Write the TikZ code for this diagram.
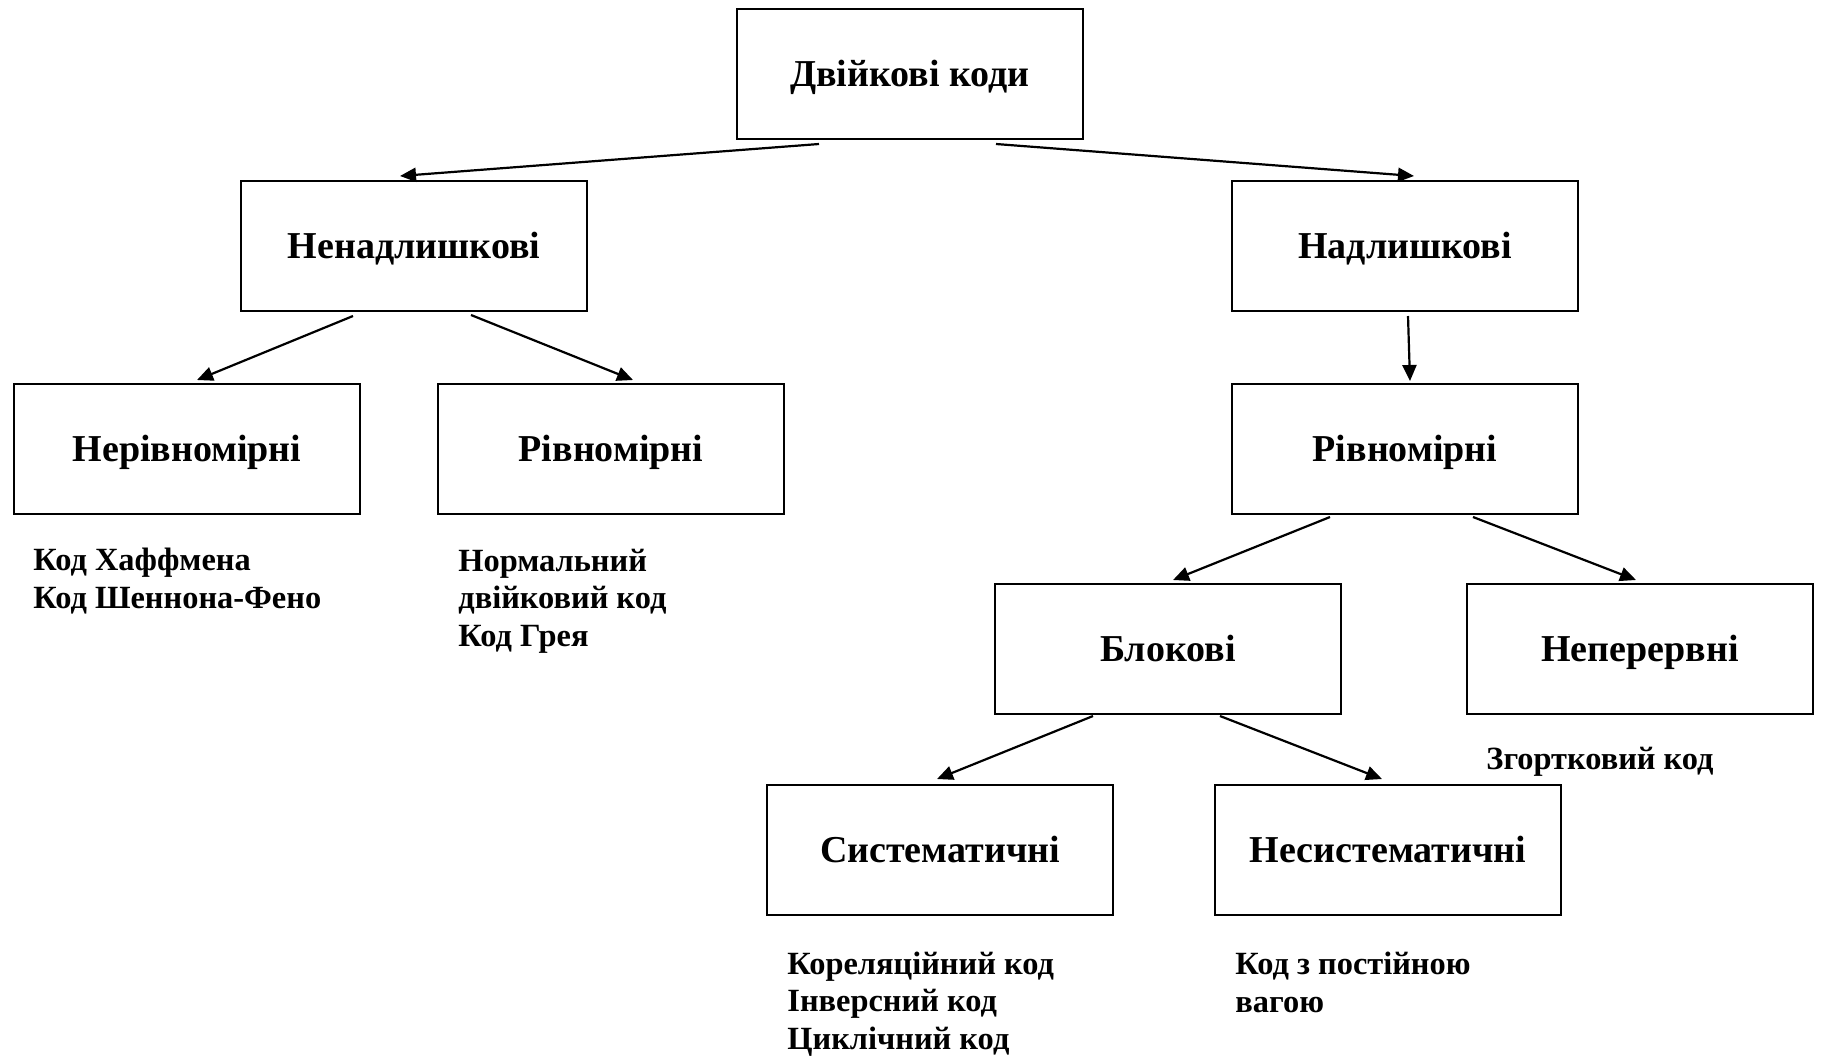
\documentclass[tikz,border=0pt]{standalone}
\usepackage{fontspec}
\setmainfont{Liberation Serif}
\usetikzlibrary{arrows.meta}
\begin{document}
\begin{tikzpicture}[x=0.5pt,y=-0.5pt,
  box/.style={draw, line width=1pt, minimum width=173pt, minimum height=65pt,
    inner sep=0pt, text height=12.5pt, text depth=0pt,
    font=\fontsize{19}{22}\selectfont\bfseries},
  note/.style={anchor=base west, align=left, inner sep=0pt,
    font=\fontsize{16.2}{18.6}\selectfont\bfseries},
  arr/.style={line width=1.1pt, -{Triangle[length=8pt,width=7pt]}}]
\useasboundingbox (0,0) rectangle (1823,1055);

% classification boxes
\node[box] (top)    at (910,74)  {Двійкові коди};
\node[box] (nen)    at (414,246) {Ненадлишкові};
\node[box] (nad)    at (1405,246) {Надлишкові};
\node[box] (nerivn) at (187,449) {Нерівномірні};
\node[box] (rivnL)  at (611,449) {Рівномірні};
\node[box] (rivnR)  at (1405,449) {Рівномірні};
\node[box] (blok)   at (1168,649) {Блокові};
\node[box] (neper)  at (1640,649) {Неперервні};
\node[box] (syst)   at (940,850) {Систематичні};
\node[box] (nesyst) at (1388,850) {Несистематичні};

% examples under the leaf boxes (placed by the baseline of the last line)
\node[note] (ex1) at (33,608)   {Код Хаффмена\\Код Шеннона-Фено};
\node[note] (ex2) at (458,646)  {Нормальний\\двійковий код\\Код Грея};
\node[note] (ex3) at (1486,769) {Згортковий код};
\node[note] (ex4) at (787,1049) {Кореляційний код\\Інверсний код\\Циклічний код};
\node[note] (ex5) at (1235,1012) {Код з постійною\\вагою};

% connectors
\draw[arr] ([shift={(83,4)}]top.south west)  -- ([shift={(160,-4)}]nen.north west);
\draw[arr] ([shift={(260,4)}]top.south west) -- ([shift={(183,-4)}]nad.north west);
\draw[arr] ([shift={(113,4)}]nen.south west) -- ([shift={(184,-3)}]nerivn.north west);
\draw[arr] ([shift={(231,3)}]nen.south west) -- ([shift={(196,-3)}]rivnL.north west);
\draw[arr] ([shift={(177,4)}]nad.south west) -- ([shift={(179,-2)}]rivnR.north west);
\draw[arr] ([shift={(99,2)}]rivnR.south west)  -- ([shift={(179,-3)}]blok.north west);
\draw[arr] ([shift={(242,2)}]rivnR.south west) -- ([shift={(170,-3)}]neper.north west);
\draw[arr] ([shift={(99,1)}]blok.south west)  -- ([shift={(171,-5)}]syst.north west);
\draw[arr] ([shift={(226,1)}]blok.south west) -- ([shift={(168,-5)}]nesyst.north west);
\end{tikzpicture}
\end{document}
